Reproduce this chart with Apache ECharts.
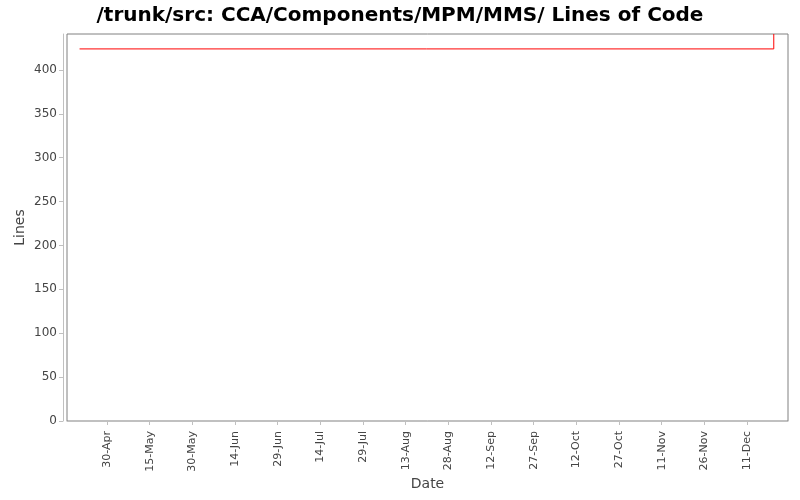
<!DOCTYPE html>
<html>
<head>
<meta charset="utf-8">
<script src="https://cdn.jsdelivr.net/npm/echarts@6/dist/echarts.min.js"></script>
<style>html,body{margin:0;padding:0;background:#fff}#c{width:800px;height:500px}</style>
</head>
<body>
<div id="c"></div>
<script>
// ---- data ----
var titleText = '/trunk/src: CCA/Components/MPM/MMS/ Lines of Code';
var pointDates = ['2007-04-20T08:00:00Z', '2007-12-20T10:00:00Z', '2007-12-20T10:00:00Z'];
var pointLines = [424, 424, 441];
var xTickDates = ['2007-04-30', '2007-05-15', '2007-05-30', '2007-06-14', '2007-06-29', '2007-07-14',
  '2007-07-29', '2007-08-13', '2007-08-28', '2007-09-12', '2007-09-27', '2007-10-12',
  '2007-10-27', '2007-11-11', '2007-11-26', '2007-12-11'];
var xRange = ['2007-04-15T22:00:00Z', '2007-12-25T10:00:00Z'];
var yTicks = [0, 50, 100, 150, 200, 250, 300, 350, 400];
var yMax = 441;
var monthNames = ['Jan','Feb','Mar','Apr','May','Jun','Jul','Aug','Sep','Oct','Nov','Dec'];

function ts(s) { return Date.parse(s.length === 10 ? s + 'T00:00:00Z' : s); }
var seriesData = pointDates.map(function (d, i) { return [ts(d), pointLines[i]]; });
var xTicks = xTickDates.map(ts);

var chart = echarts.init(document.getElementById('c'));
chart.setOption({
  animation: false,
  backgroundColor: '#fff',
  title: {
    text: titleText, left: 'center', top: 1,
    textStyle: { fontFamily: 'DejaVu Sans', fontWeight: 'bold', fontSize: 20, color: '#000' }
  },
  grid: { left: 67, right: 12, top: 34, bottom: 79, show: true, borderColor: '#808080', borderWidth: 1, backgroundColor: '#fff' },
  xAxis: {
    type: 'value', min: ts(xRange[0]), max: ts(xRange[1]), offset: 4,
    name: 'Date', nameLocation: 'middle', nameGap: 52, nameMoveOverlap: false,
    nameTextStyle: { fontFamily: 'DejaVu Sans', fontSize: 14, color: '#444' },
    axisLine: { show: true, lineStyle: { color: '#c0c0c0' } },
    axisTick: { show: true, length: 4, lineStyle: { color: '#c0c0c0' }, customValues: xTicks },
    splitLine: { show: false },
    axisLabel: {
      customValues: xTicks, rotate: 90, margin: 6,
      fontFamily: 'DejaVu Sans', fontSize: 11, color: '#444',
      formatter: function (v) {
        var d = new Date(v);
        return d.getUTCDate() + '-' + monthNames[d.getUTCMonth()];
      }
    }
  },
  yAxis: {
    type: 'value', min: 0, max: yMax, offset: 4,
    name: 'Lines', nameLocation: 'middle', nameGap: 36, nameMoveOverlap: false,
    nameTextStyle: { fontFamily: 'DejaVu Sans', fontSize: 14, color: '#444' },
    axisLine: { show: true, lineStyle: { color: '#c0c0c0' } },
    axisTick: { show: true, length: 4, lineStyle: { color: '#c0c0c0' }, customValues: yTicks },
    splitLine: { show: false },
    axisLabel: { customValues: yTicks, margin: 6, fontFamily: 'DejaVu Sans', fontSize: 12, color: '#444' }
  },
  series: [{
    type: 'line', data: seriesData, symbol: 'none', clip: true,
    lineStyle: { color: '#ff0000', width: 1 }
  }]
});
</script>
</body>
</html>
